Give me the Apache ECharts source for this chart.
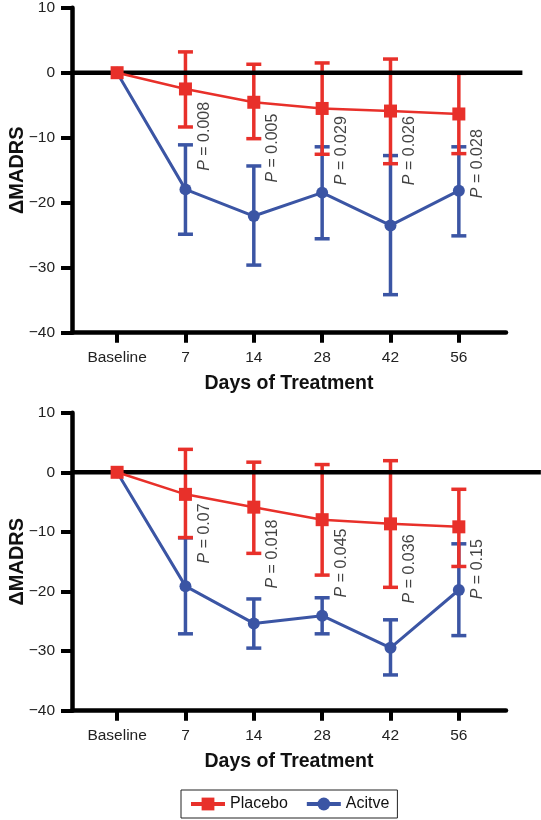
<!DOCTYPE html>
<html><head><meta charset="utf-8">
<script src="https://cdn.jsdelivr.net/npm/echarts@6/dist/echarts.min.js"></script>
<style>html,body{margin:0;padding:0;background:#fff}#c{width:541px;height:820px}</style>
</head><body><div id="c"></div><script>
// ---------- data ----------
const categories = ['Baseline', '7', '14', '28', '42', '56'];
const yTickValues = [-40, -30, -20, -10, 0, 10];

// Upper panel
const placeboA    = [0, -2.5, -4.55, -5.5, -5.9, -6.35];
const placeboAHi  = [null, 3.2, 1.3, 1.5, 2.1, -0.1];
const placeboALo  = [null, -8.35, -10.15, -12.55, -14.0, -12.45];
const activeA     = [0, -17.95, -22.05, -18.45, -23.5, -18.15];
const activeAHi   = [null, -11.1, -14.35, -11.4, -12.75, -11.4];
const activeALo   = [null, -24.85, -29.6, -25.55, -34.15, -25.1];
const pValuesA    = ['0.008', '0.005', '0.029', '0.026', '0.028'];
const pAnchorA    = [-15.1, -16.9, -17.3, -17.3, -19.3];

// Lower panel
const placeboB    = [0, -3.7, -5.85, -7.95, -8.65, -9.15];
const placeboBHi  = [null, 3.85, 1.7, 1.3, 1.95, -2.85];
const placeboBLo  = [null, -10.95, -13.6, -17.25, -19.3, -15.8];
const activeB     = [0, -19.1, -25.35, -24.05, -29.45, -19.75];
const activeBHi   = [null, -11.0, -21.25, -21.05, -24.75, -12.0];
const activeBLo   = [null, -27.1, -29.5, -27.1, -34.0, -27.4];
const pValuesB    = ['0.07', '0.018', '0.045', '0.036', '0.15'];
const pAnchorB    = [-15.3, -19.5, -21.0, -22.0, -21.3];

// ---------- styles ----------
const RED = '#e8302a';
const BLUE = '#3b55a4';
const FONT = '"Liberation Sans", Arial, Helvetica, sans-serif';
const X_MIN = -0.66, X_MAX = 5.69;
const P_DX = 0.28;

const chart = echarts.init(document.getElementById('c'), null, {renderer: 'canvas'});

function fmtY(v) { return v < 0 ? '\u2212' + Math.abs(v) : String(v); }

function errRender(color) {
  return function (params, api) {
    const x = api.value(0), hi = api.value(1), lo = api.value(2);
    const t = api.coord([x, hi]);
    const b = api.coord([x, lo]);
    const hw = 7.5;
    const st = {stroke: color, lineWidth: 3.5, lineCap: 'butt'};
    return {
      type: 'group',
      children: [
        {type: 'line', shape: {x1: t[0], y1: t[1], x2: b[0], y2: b[1]}, style: st},
        {type: 'line', shape: {x1: t[0] - hw, y1: t[1], x2: t[0] + hw, y2: t[1]}, style: st},
        {type: 'line', shape: {x1: b[0] - hw, y1: b[1], x2: b[0] + hw, y2: b[1]}, style: st}
      ]
    };
  };
}

function zeroRender(params, api) {
  const a = api.coord([api.value(0), api.value(2)]);
  const b = api.coord([api.value(1), api.value(2)]);
  return {type: 'line', shape: {x1: a[0], y1: a[1], x2: b[0], y2: b[1]},
    style: {stroke: '#000', lineWidth: 4.5}};
}

function errData(hi, lo) {
  const out = [];
  for (let i = 0; i < hi.length; i++) if (hi[i] !== null) out.push([i, hi[i], lo[i]]);
  return out;
}
function lineData(vals) { return vals.map((v, i) => [i, v]); }
function pData(anchors) { return anchors.map((v, i) => [i + 1 + P_DX, v]); }

function xAxisCfg(gi) {
  return {
    gridIndex: gi, type: 'value', min: X_MIN, max: X_MAX,
    name: 'Days of Treatment', nameLocation: 'middle', nameGap: 41,
    nameTextStyle: {fontFamily: FONT, fontSize: 19.5, fontWeight: 'bold', color: '#111'},
    axisLine: {show: true, onZero: false, lineStyle: {color: '#000', width: 4.5}},
    axisTick: {show: true, length: 10, lineStyle: {color: '#000', width: 4}, customValues: [0, 1, 2, 3, 4, 5]},
    axisLabel: {show: true, margin: 17, fontFamily: FONT, fontSize: 15.5, color: '#222',
      customValues: [0, 1, 2, 3, 4, 5], formatter: v => categories[Math.round(v)]},
    splitLine: {show: false}
  };
}
function yAxisCfg(gi) {
  return {
    gridIndex: gi, type: 'value', min: -40, max: 10, interval: 10,
    name: '\u0394MADRS', nameLocation: 'middle', nameGap: 45, nameRotate: 90,
    nameMoveOverlap: false,
    nameTextStyle: {fontFamily: FONT, fontSize: 20, fontWeight: 'bold', color: '#111'},
    axisLine: {show: true, onZero: false, lineStyle: {color: '#000', width: 4.5}},
    axisTick: {show: true, length: 11, lineStyle: {color: '#000', width: 4}},
    axisLabel: {show: true, margin: 17, fontFamily: FONT, fontSize: 15.5, color: '#222', formatter: fmtY},
    splitLine: {show: false}
  };
}

function panelSeries(gi, pl, plHi, plLo, ac, acHi, acLo, pv, pa, zeroEnd) {
  return [
    {
      name: 'Acitve err', type: 'custom', xAxisIndex: gi, yAxisIndex: gi, z: 1, clip: false,
      renderItem: errRender(BLUE), encode: {x: 0, y: [1, 2]}, data: errData(acHi, acLo), silent: true
    },
    {
      name: 'Placebo err', type: 'custom', xAxisIndex: gi, yAxisIndex: gi, z: 2, clip: false,
      renderItem: errRender(RED), encode: {x: 0, y: [1, 2]}, data: errData(plHi, plLo), silent: true
    },
    {
      name: 'zero' + gi, type: 'custom', xAxisIndex: gi, yAxisIndex: gi, z: 5, clip: false,
      renderItem: zeroRender, encode: {x: [0, 1], y: 2}, data: [[X_MIN, zeroEnd, 0]], silent: true
    },
    {
      name: 'Acitve', type: 'line', xAxisIndex: gi, yAxisIndex: gi, z: 10,
      data: lineData(ac), symbol: 'circle', symbolSize: 12,
      lineStyle: {color: BLUE, width: 3}, itemStyle: {color: BLUE}
    },
    {
      name: 'Placebo', type: 'line', xAxisIndex: gi, yAxisIndex: gi, z: 11,
      data: lineData(pl), symbol: 'rect', symbolSize: 13,
      lineStyle: {color: RED, width: 2.5}, itemStyle: {color: RED}
    },
    {
      name: 'p' + gi, type: 'scatter', xAxisIndex: gi, yAxisIndex: gi, z: 12,
      data: pData(pa), symbolSize: 1, itemStyle: {color: 'rgba(0,0,0,0)'}, silent: true,
      label: {
        show: true, position: 'inside', rotate: 90, align: 'left', verticalAlign: 'middle',
        fontFamily: FONT, fontSize: 16, color: '#111',
        formatter: p => '{i|P} = ' + pv[p.dataIndex],
        rich: {i: {fontStyle: 'italic', fontFamily: FONT, fontSize: 16, color: '#111'}}
      },
      labelLayout: {hideOverlap: false}
    }
  ];
}

const option = {
  animation: false,
  backgroundColor: '#fff',
  textStyle: {fontFamily: FONT},
  grid: [
    {left: 72, top: 7.7, width: 434, height: 325, outerBoundsMode: 'none', containLabel: false},
    {left: 72, top: 412.7, width: 434, height: 298, outerBoundsMode: 'none', containLabel: false}
  ],
  xAxis: [xAxisCfg(0), xAxisCfg(1)],
  yAxis: [yAxisCfg(0), yAxisCfg(1)],
  legend: {
    data: ['Placebo', 'Acitve'], left: 181, top: 790,
    orient: 'horizontal', itemWidth: 34, itemHeight: 16, itemGap: 17,
    borderColor: '#222', borderWidth: 1, padding: [6, 8, 6, 8],
    lineStyle: {width: 4},
    textStyle: {fontFamily: FONT, fontSize: 16, color: '#111'},
    selectedMode: false
  },
  series: [].concat(
    panelSeries(0, placeboA, placeboAHi, placeboALo, activeA, activeAHi, activeALo, pValuesA, pAnchorA, 5.93),
    panelSeries(1, placeboB, placeboBHi, placeboBLo, activeB, activeBHi, activeBLo, pValuesB, pAnchorB, 6.2)
  )
};
chart.setOption(option);
</script></body></html>
